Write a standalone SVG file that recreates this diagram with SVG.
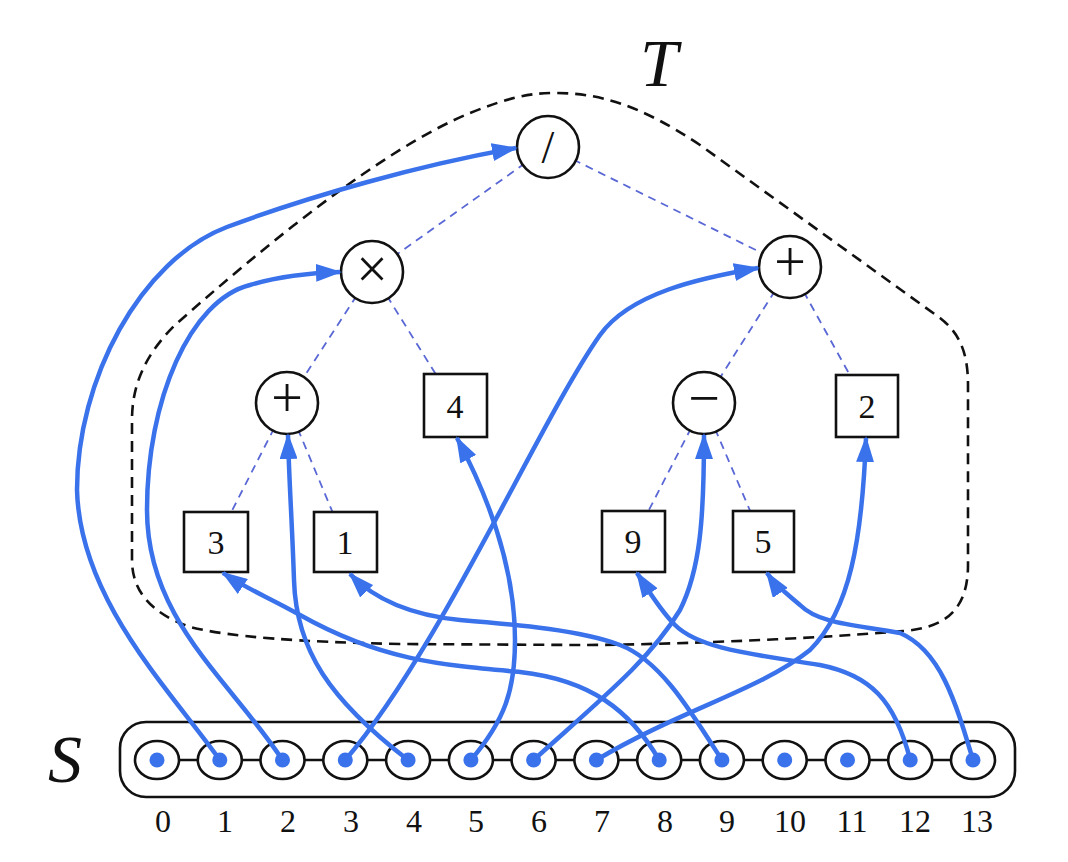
<svg xmlns="http://www.w3.org/2000/svg" width="1068" height="862" viewBox="0 0 1068 862">
<defs>
<style>
.bound{fill:none;stroke:#111;stroke-width:2.6;stroke-dasharray:11,7}
.tedge{stroke:#5a68d6;stroke-width:1.8;stroke-dasharray:8,6;fill:none}
.op{fill:#fff;stroke:#111;stroke-width:2.6}
.box{fill:#fff;stroke:#111;stroke-width:2.6}
.opt{font-family:"Liberation Serif",serif;fill:#111;text-anchor:middle}
.num{font-family:"Liberation Serif",serif;font-size:32px;fill:#111;text-anchor:middle}
.bnum{font-family:"Liberation Serif",serif;font-size:34px;fill:#111;text-anchor:middle}
.big{font-family:"Liberation Serif",serif;font-style:italic;font-size:68px;fill:#111}
.cell{fill:#fff;stroke:#111;stroke-width:2.6}
.dot{fill:#3a72ec}
.conn{fill:none;stroke:#3a72ec;stroke-width:4.5;marker-end:url(#ah)}
</style>
<marker id="ah" markerWidth="26" markerHeight="18" refX="24" refY="9" orient="auto" markerUnits="userSpaceOnUse">
<path d="M0,0 L26,9 L0,18 Z" fill="#3a72ec"/>
</marker>
</defs>
<rect width="1068" height="862" fill="#fff"/>

<text class="big" x="640" y="86">T</text>
<text class="big" x="48" y="782">S</text>

<path id="T-boundary" class="bound" d="M132,560 L132,420 C132,385 145,355 175,325 C260,250 380,150 470,113 C510,97 530,93 555,93 C600,93 640,105 700,145 L940,318 C958,332 968,350 968,385 L968,565 C968,610 945,628 903,631 C800,640 650,645 580,645 L400,644 C300,642 230,637 190,627 C150,613 132,590 132,560 Z"/>

<g id="tree-edges">
<line class="tedge" x1="548" y1="147" x2="372" y2="272"/>
<line class="tedge" x1="548" y1="147" x2="790" y2="267"/>
<line class="tedge" x1="372" y1="272" x2="287" y2="403"/>
<line class="tedge" x1="372" y1="272" x2="455" y2="405"/>
<line class="tedge" x1="287" y1="403" x2="216" y2="542"/>
<line class="tedge" x1="287" y1="403" x2="345" y2="542"/>
<line class="tedge" x1="790" y1="267" x2="704" y2="403"/>
<line class="tedge" x1="790" y1="267" x2="867" y2="406"/>
<line class="tedge" x1="704" y1="403" x2="633" y2="541"/>
<line class="tedge" x1="704" y1="403" x2="763" y2="541"/>
</g>

<g id="node-div"><circle class="op" cx="548" cy="147" r="31"/><text class="opt" x="548" y="163" font-size="46">/</text></g>
<g id="node-mul"><circle class="op" cx="372" cy="272" r="31"/><text class="opt" x="372" y="288" font-size="56">×</text></g>
<g id="node-addR"><circle class="op" cx="790" cy="267" r="31"/><text class="opt" x="790" y="281" font-size="56">+</text></g>
<g id="node-addL"><circle class="op" cx="287" cy="403" r="31"/><text class="opt" x="287" y="417" font-size="56">+</text></g>
<g id="node-sub"><circle class="op" cx="704" cy="403" r="31"/><text class="opt" x="704" y="417" font-size="56">−</text></g>
<g id="node-4"><rect class="box" x="424" y="374" width="63" height="63"/><text class="bnum" x="455" y="418">4</text></g>
<g id="node-2"><rect class="box" x="836" y="375" width="62" height="62"/><text class="bnum" x="867" y="418">2</text></g>
<g id="node-3"><rect class="box" x="184" y="512" width="64" height="60"/><text class="bnum" x="216" y="554">3</text></g>
<g id="node-1"><rect class="box" x="314" y="512" width="63" height="60"/><text class="bnum" x="345" y="554">1</text></g>
<g id="node-9"><rect class="box" x="602" y="511" width="63" height="61"/><text class="bnum" x="633" y="553">9</text></g>
<g id="node-5"><rect class="box" x="733" y="511" width="61" height="61"/><text class="bnum" x="763" y="553">5</text></g>

<g id="S-array">
<rect x="120" y="722" width="895" height="75" rx="26" fill="#fff" stroke="#111" stroke-width="2.6"/>
<line x1="157" y1="760" x2="973" y2="760" stroke="#111" stroke-width="2.6"/>
<g id="s0"><ellipse class="cell" cx="157" cy="760" rx="22" ry="19"/><circle class="dot" cx="157" cy="760" r="7.5"/></g>
<g id="s1"><ellipse class="cell" cx="219.8" cy="760" rx="22" ry="19"/><circle class="dot" cx="219.8" cy="760" r="7.5"/></g>
<g id="s2"><ellipse class="cell" cx="282.5" cy="760" rx="22" ry="19"/><circle class="dot" cx="282.5" cy="760" r="7.5"/></g>
<g id="s3"><ellipse class="cell" cx="345.3" cy="760" rx="22" ry="19"/><circle class="dot" cx="345.3" cy="760" r="7.5"/></g>
<g id="s4"><ellipse class="cell" cx="408.1" cy="760" rx="22" ry="19"/><circle class="dot" cx="408.1" cy="760" r="7.5"/></g>
<g id="s5"><ellipse class="cell" cx="470.9" cy="760" rx="22" ry="19"/><circle class="dot" cx="470.9" cy="760" r="7.5"/></g>
<g id="s6"><ellipse class="cell" cx="533.6" cy="760" rx="22" ry="19"/><circle class="dot" cx="533.6" cy="760" r="7.5"/></g>
<g id="s7"><ellipse class="cell" cx="596.4" cy="760" rx="22" ry="19"/><circle class="dot" cx="596.4" cy="760" r="7.5"/></g>
<g id="s8"><ellipse class="cell" cx="659.2" cy="760" rx="22" ry="19"/><circle class="dot" cx="659.2" cy="760" r="7.5"/></g>
<g id="s9"><ellipse class="cell" cx="721.9" cy="760" rx="22" ry="19"/><circle class="dot" cx="721.9" cy="760" r="7.5"/></g>
<g id="s10"><ellipse class="cell" cx="784.7" cy="760" rx="22" ry="19"/><circle class="dot" cx="784.7" cy="760" r="7.5"/></g>
<g id="s11"><ellipse class="cell" cx="847.5" cy="760" rx="22" ry="19"/><circle class="dot" cx="847.5" cy="760" r="7.5"/></g>
<g id="s12"><ellipse class="cell" cx="910.2" cy="760" rx="22" ry="19"/><circle class="dot" cx="910.2" cy="760" r="7.5"/></g>
<g id="s13"><ellipse class="cell" cx="973" cy="760" rx="22" ry="19"/><circle class="dot" cx="973" cy="760" r="7.5"/></g>
<text class="num" x="163" y="832">0</text>
<text class="num" x="225" y="832">1</text>
<text class="num" x="288" y="832">2</text>
<text class="num" x="351" y="832">3</text>
<text class="num" x="414" y="832">4</text>
<text class="num" x="476" y="832">5</text>
<text class="num" x="539" y="832">6</text>
<text class="num" x="602" y="832">7</text>
<text class="num" x="665" y="832">8</text>
<text class="num" x="727" y="832">9</text>
<text class="num" x="790" y="832">10</text>
<text class="num" x="852" y="832">11</text>
<text class="num" x="915" y="832">12</text>
<text class="num" x="977" y="832">13</text>
</g>

<g id="connectors">
<path class="conn" d="M219.8,760 C170,690 80,600 77,490 C77,380 140,260 227,227 C310,196 420,165 516,148"/>
<path class="conn" d="M282.5,760 C230,680 147,620 147,510 C147,400 190,300 250,285 C280,276 310,273 340,272"/>
<path class="conn" d="M345.3,760 C440,650 540,420 600,335 C630,293 700,278 758,268"/>
<path class="conn" d="M408.1,760 C330,700 296,650 294,580 C292,520 289,480 288,435"/>
<path class="conn" d="M470.9,760 C505,720 515,690 515,640 C515,570 490,500 457,438"/>
<path class="conn" d="M533.6,760 C600,700 650,660 680,610 C700,570 704,520 704,435"/>
<path class="conn" d="M596.4,760 C680,710 760,690 810,650 C850,610 862,540 866,438"/>
<path class="conn" d="M659.2,760 C630,710 590,680 520,672 C440,665 380,660 300,615 C270,598 245,588 223,573"/>
<path class="conn" d="M721.9,760 C690,710 660,660 620,645 C580,630 520,625 460,620 C410,615 375,600 350,574"/>
<path class="conn" d="M910.2,760 C895,700 870,675 820,665 C760,655 700,650 675,625 C660,610 648,590 637,573"/>
<path class="conn" d="M973,760 C955,700 940,650 900,633 C860,625 820,625 800,605 C785,592 775,585 767,573"/>
</g>
</svg>
